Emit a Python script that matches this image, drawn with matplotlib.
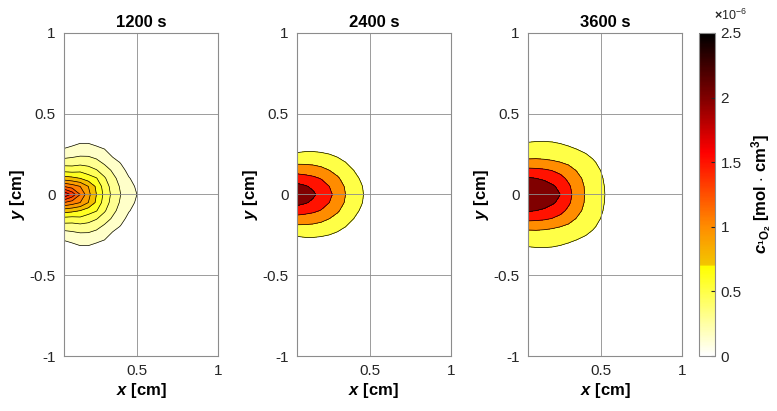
import numpy as np
import matplotlib.pyplot as plt
from matplotlib.colors import LinearSegmentedColormap, Normalize

plt.rcParams['font.family'] = ['Liberation Sans', 'DejaVu Sans']
plt.rcParams['mathtext.fontset'] = 'custom'
plt.rcParams['mathtext.rm'] = 'Liberation Sans:bold'
plt.rcParams['mathtext.bf'] = 'Liberation Sans:bold'
plt.rcParams['mathtext.it'] = 'Liberation Sans:bold:italic'

# grid of the exported solution (upper half, y >= 0; field is symmetric in y)
x_pts = [0.05, 0.10, 0.15, 0.20, 0.25, 0.30, 0.35, 0.40, 0.45, 0.50, 0.55, 0.60]
y_pts = [0.00, 0.05, 0.10, 0.15, 0.20, 0.25, 0.30, 0.35, 0.40]

# concentration in 1e-6 mol/cm3, rows = y_pts, cols = x_pts
c_1200 = [
    [1.65, 1.45, 1.20, 0.95, 0.75, 0.56, 0.41, 0.30, 0.22, 0.15, 0.08, 0.02],
    [1.20, 1.13, 1.05, 0.90, 0.72, 0.53, 0.39, 0.28, 0.20, 0.13, 0.07, 0.02],
    [0.82, 0.79, 0.75, 0.67, 0.61, 0.47, 0.34, 0.25, 0.16, 0.10, 0.05, 0.01],
    [0.55, 0.54, 0.56, 0.52, 0.46, 0.37, 0.28, 0.20, 0.11, 0.07, 0.03, 0.01],
    [0.37, 0.37, 0.39, 0.38, 0.34, 0.27, 0.20, 0.14, 0.07, 0.04, 0.02, 0.00],
    [0.22, 0.25, 0.27, 0.27, 0.24, 0.20, 0.12, 0.08, 0.04, 0.02, 0.01, 0.00],
    [0.12, 0.15, 0.18, 0.18, 0.15, 0.12, 0.06, 0.04, 0.02, 0.01, 0.00, 0.00],
    [0.05, 0.07, 0.09, 0.09, 0.07, 0.05, 0.02, 0.01, 0.00, 0.00, 0.00, 0.00],
    [0.01, 0.02, 0.03, 0.03, 0.02, 0.01, 0.00, 0.00, 0.00, 0.00, 0.00, 0.00],
]
c_2400 = [
    [2.35, 2.22, 2.07, 1.86, 1.60, 1.32, 1.00, 0.76, 0.55, 0.32, 0.13, 0.03],
    [2.15, 2.05, 1.92, 1.74, 1.50, 1.24, 0.95, 0.72, 0.52, 0.30, 0.12, 0.03],
    [1.75, 1.68, 1.60, 1.47, 1.28, 1.06, 0.83, 0.62, 0.44, 0.25, 0.10, 0.02],
    [1.30, 1.27, 1.22, 1.13, 1.00, 0.85, 0.67, 0.50, 0.34, 0.19, 0.08, 0.02],
    [0.90, 0.90, 0.88, 0.83, 0.74, 0.63, 0.50, 0.37, 0.24, 0.13, 0.05, 0.01],
    [0.55, 0.58, 0.58, 0.55, 0.50, 0.42, 0.33, 0.23, 0.15, 0.08, 0.03, 0.00],
    [0.28, 0.32, 0.33, 0.31, 0.28, 0.22, 0.17, 0.12, 0.07, 0.03, 0.01, 0.00],
    [0.10, 0.12, 0.13, 0.12, 0.10, 0.08, 0.06, 0.04, 0.02, 0.01, 0.00, 0.00],
    [0.02, 0.03, 0.03, 0.03, 0.02, 0.02, 0.01, 0.01, 0.00, 0.00, 0.00, 0.00],
]
c_3600 = [
    [2.52, 2.42, 2.30, 2.15, 2.00, 1.65, 1.30, 1.00, 0.82, 0.62, 0.38, 0.15],
    [2.40, 2.32, 2.20, 2.06, 1.90, 1.58, 1.26, 0.98, 0.80, 0.60, 0.37, 0.14],
    [2.05, 2.00, 1.93, 1.82, 1.65, 1.40, 1.14, 0.92, 0.75, 0.56, 0.33, 0.12],
    [1.65, 1.62, 1.57, 1.48, 1.35, 1.15, 0.98, 0.82, 0.67, 0.49, 0.27, 0.09],
    [1.10, 1.10, 1.08, 1.05, 1.00, 0.92, 0.82, 0.70, 0.56, 0.39, 0.19, 0.06],
    [0.85, 0.87, 0.86, 0.83, 0.78, 0.72, 0.63, 0.53, 0.41, 0.26, 0.11, 0.03],
    [0.62, 0.64, 0.64, 0.62, 0.57, 0.50, 0.42, 0.33, 0.23, 0.12, 0.04, 0.01],
    [0.36, 0.39, 0.40, 0.38, 0.34, 0.28, 0.20, 0.13, 0.07, 0.03, 0.01, 0.00],
    [0.12, 0.14, 0.15, 0.13, 0.10, 0.07, 0.04, 0.02, 0.01, 0.00, 0.00, 0.00],
]

titles = ['1200 s', '2400 s', '3600 s']
fields = [c_1200, c_2400, c_3600]
levels_1200 = [0.15, 0.30, 0.45, 0.60, 0.75, 0.90, 1.05, 1.20, 1.35, 1.50, 1.65]
levels_late = [0.5, 1.0, 1.5, 2.0, 2.5, 3.0]
level_sets = [levels_1200, levels_late, levels_late]

cmap = LinearSegmentedColormap.from_list('hot_mod', [
    (0.0, (1, 1, 1)),
    (0.276, (1, 1, 0)),
    (0.28, (0.95, 0.78, 0.0)),
    (0.40, (1.0, 0.55, 0.0)),
    (0.63, (1, 0, 0)),
    (0.80, (0.5, 0, 0)),
    (1.0, (0, 0, 0)),
])
norm = Normalize(0, 2.5)

fig = plt.figure(figsize=(7.77, 4.11), dpi=100)
bottom, height = 0.1338, 0.786
lefts = [0.0824, 0.3822, 0.6795]
width = 0.198

xg = np.array(x_pts)
yg = np.concatenate([-np.array(y_pts[:0:-1]), np.array(y_pts)])

for left, title, c, lev in zip(lefts, titles, fields, level_sets):
    ax = fig.add_axes([left, bottom, width, height])
    half = np.array(c)
    z = np.vstack([half[:0:-1], half])
    cols = [cmap(norm(v)) for v in lev[:-1]]
    ax.contourf(xg, yg, z, levels=lev, colors=cols)
    ax.contour(xg, yg, z, levels=lev[:-1], colors='k', linewidths=0.5)
    ax.set_xlim(0.05, 1)
    ax.set_ylim(-1, 1)
    ax.set_xticks([0.5, 1])
    ax.set_xticklabels(['0.5', '1'])
    ax.set_yticks([-1, -0.5, 0, 0.5, 1])
    ax.set_yticklabels(['-1', '-0.5', '0', '0.5', '1'])
    ax.grid(True, color='0.55', linewidth=0.6)
    ax.set_axisbelow(False)
    ax.tick_params(length=0, labelsize=11, colors='0.15', pad=6)
    for s in ax.spines.values():
        s.set_color('0.55')
        s.set_linewidth(0.8)
    ax.set_title(title, fontsize=12, fontweight='bold', pad=4)
    ax.set_xlabel(r'$\mathit{x}$ [cm]', fontsize=12, fontweight='bold', labelpad=2)
    ax.set_ylabel(r'$\mathit{y}$ [cm]', fontsize=12, fontweight='bold', labelpad=2)

cax = fig.add_axes([0.8996, bottom, 0.0206, height])
sm = plt.cm.ScalarMappable(norm=norm, cmap=cmap)
cb = fig.colorbar(sm, cax=cax, ticks=[0, 0.5, 1, 1.5, 2, 2.5])
cb.ax.set_yticklabels(['0', '0.5', '1', '1.5', '2', '2.5'])
cb.ax.tick_params(labelsize=11, direction='in', length=3, colors='0.15', pad=4)
cb.outline.set_edgecolor('0.55')
cb.outline.set_linewidth(0.8)
cb.set_label(r'$\mathit{c}_{^{1}\mathrm{O}_{2}}$ [mol $\cdot$ cm$^{3}$]',
             fontsize=12, fontweight='bold', labelpad=6)
cax.text(0.95, 1.03, r'$\times\mathregular{10^{-6}}$', transform=cax.transAxes,
         fontsize=9, color='0.15', ha='left', va='bottom')

fig.savefig('out.png', dpi=100)
